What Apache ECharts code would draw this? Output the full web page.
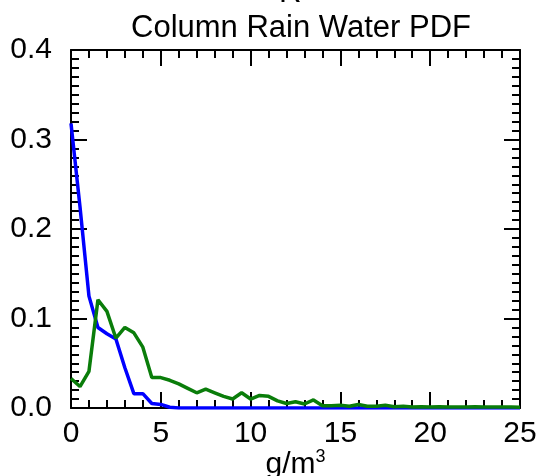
<!DOCTYPE html>
<html><head><meta charset="utf-8">
<script src="https://cdn.jsdelivr.net/npm/echarts@6/dist/echarts.min.js"></script>
<style>html,body{margin:0;padding:0;background:#fff}#c{width:543px;height:476px}</style>
</head><body><div id="c"></div>
<script>
var xValues = [0,0.5,1,1.5,2,2.5,3,3.5,4,4.5,5,5.5,6,6.5,7,7.5,8,8.5,9,9.5,10,10.5,11,11.5,12,12.5,13,13.5,14,14.5,15,15.5,16,16.5,17,17.5,18,18.5,19,19.5,20,20.5,21,21.5,22,22.5,23,23.5,24,24.5,25];
var blueValues = [0.318,0.225,0.125,0.090,0.083,0.077,0.045,0.016,0.016,0.005,0.004,0.0008,0,0,0,0,0,0,0,0,0,0,0,0,0,0,0,0,0,0,0,0,0,0,0,0,0,0,0,0,0,0,0,0,0,0,0,0,0,0,0];
var greenValues = [0.033,0.024,0.041,0.121,0.108,0.078,0.090,0.084,0.068,0.034,0.034,0.031,0.027,0.022,0.017,0.021,0.017,0.013,0.010,0.017,0.010,0.014,0.013,0.008,0.005,0.007,0.0045,0.009,0.0026,0.0026,0.003,0.002,0.004,0.002,0.002,0.003,0.0015,0.002,0.001,0.0015,0.001,0.0015,0.001,0.0012,0.001,0.0015,0.001,0.0012,0.001,0.001,0.0008];
var xTicks = [0,5,10,15,20,25];
var yTicks = [0.0,0.1,0.2,0.3,0.4];
var titleText = 'Column Rain Water PDF';

function pairs(v){ return xValues.map(function(x,i){ return [x, v[i]]; }); }
var font = 'Liberation Sans, Arial, Helvetica, sans-serif';
var chart = echarts.init(document.getElementById('c'), null, {renderer:'canvas'});
var tickStyle = {color:'#000', width:2};
function xAx(pos, labels){
  return {
    type:'value', position:pos, min:xTicks[0], max:xTicks[xTicks.length-1], interval:5,
    axisLine:{show:true, onZero:false, lineStyle:{color:'#000', width:2}},
    axisTick:{show:true, inside:true, length:16, lineStyle:tickStyle},
    minorTick:{show:true, splitNumber:5, length:8, lineStyle:tickStyle},
    splitLine:{show:false},
    axisLabel:{show:labels, fontSize:30, color:'#000', fontFamily:font, margin:11},
    name: labels ? '{a|g/m}{s|3}' : '',
    nameLocation:'middle', nameGap:40, nameMoveOverlap:false,
    nameTextStyle:{rich:{a:{fontSize:30, fontFamily:font, color:'#000'}, s:{fontSize:18, fontFamily:font, color:'#000', verticalAlign:'top', padding:[0,0,16,0]}}}
  };
}
function yAx(pos, labels){
  return {
    type:'value', position:pos, min:yTicks[0], max:yTicks[yTicks.length-1], interval:0.1,
    axisLine:{show:true, onZero:false, lineStyle:{color:'#000', width:2}},
    axisTick:{show:true, inside:true, length:16, lineStyle:tickStyle},
    minorTick:{show:true, splitNumber:10, length:8, lineStyle:tickStyle},
    splitLine:{show:false},
    axisLabel:{show:labels, fontSize:30, color:'#000', fontFamily:font, margin:19,
      formatter:function(v){ return v.toFixed(1); }}
  };
}
chart.setOption({
  animation:false,
  backgroundColor:'#fff',
  title:{text:titleText, left:296, textAlign:'center', top:8,
    textStyle:{fontSize:31, fontWeight:'normal', color:'#000', fontFamily:font}},
  graphic:[{type:'text', left:279, top:-22, style:{text:'R', fill:'#000', font:'31px Liberation Sans, Arial, sans-serif'}}],
  grid:{left:71, right:23, top:50, bottom:68, containLabel:false, outerBoundsMode:'none'},
  xAxis:[xAx('bottom', true), xAx('top', false)],
  yAxis:[yAx('left', true), yAx('right', false)],
  series:[
    {type:'line', data:pairs(blueValues), showSymbol:false, lineStyle:{color:'#0000ff', width:3.5}, z:3},
    {type:'line', data:pairs(greenValues), showSymbol:false, lineStyle:{color:'#0a7d0a', width:3.5}, z:4}
  ]
});
</script></body></html>
